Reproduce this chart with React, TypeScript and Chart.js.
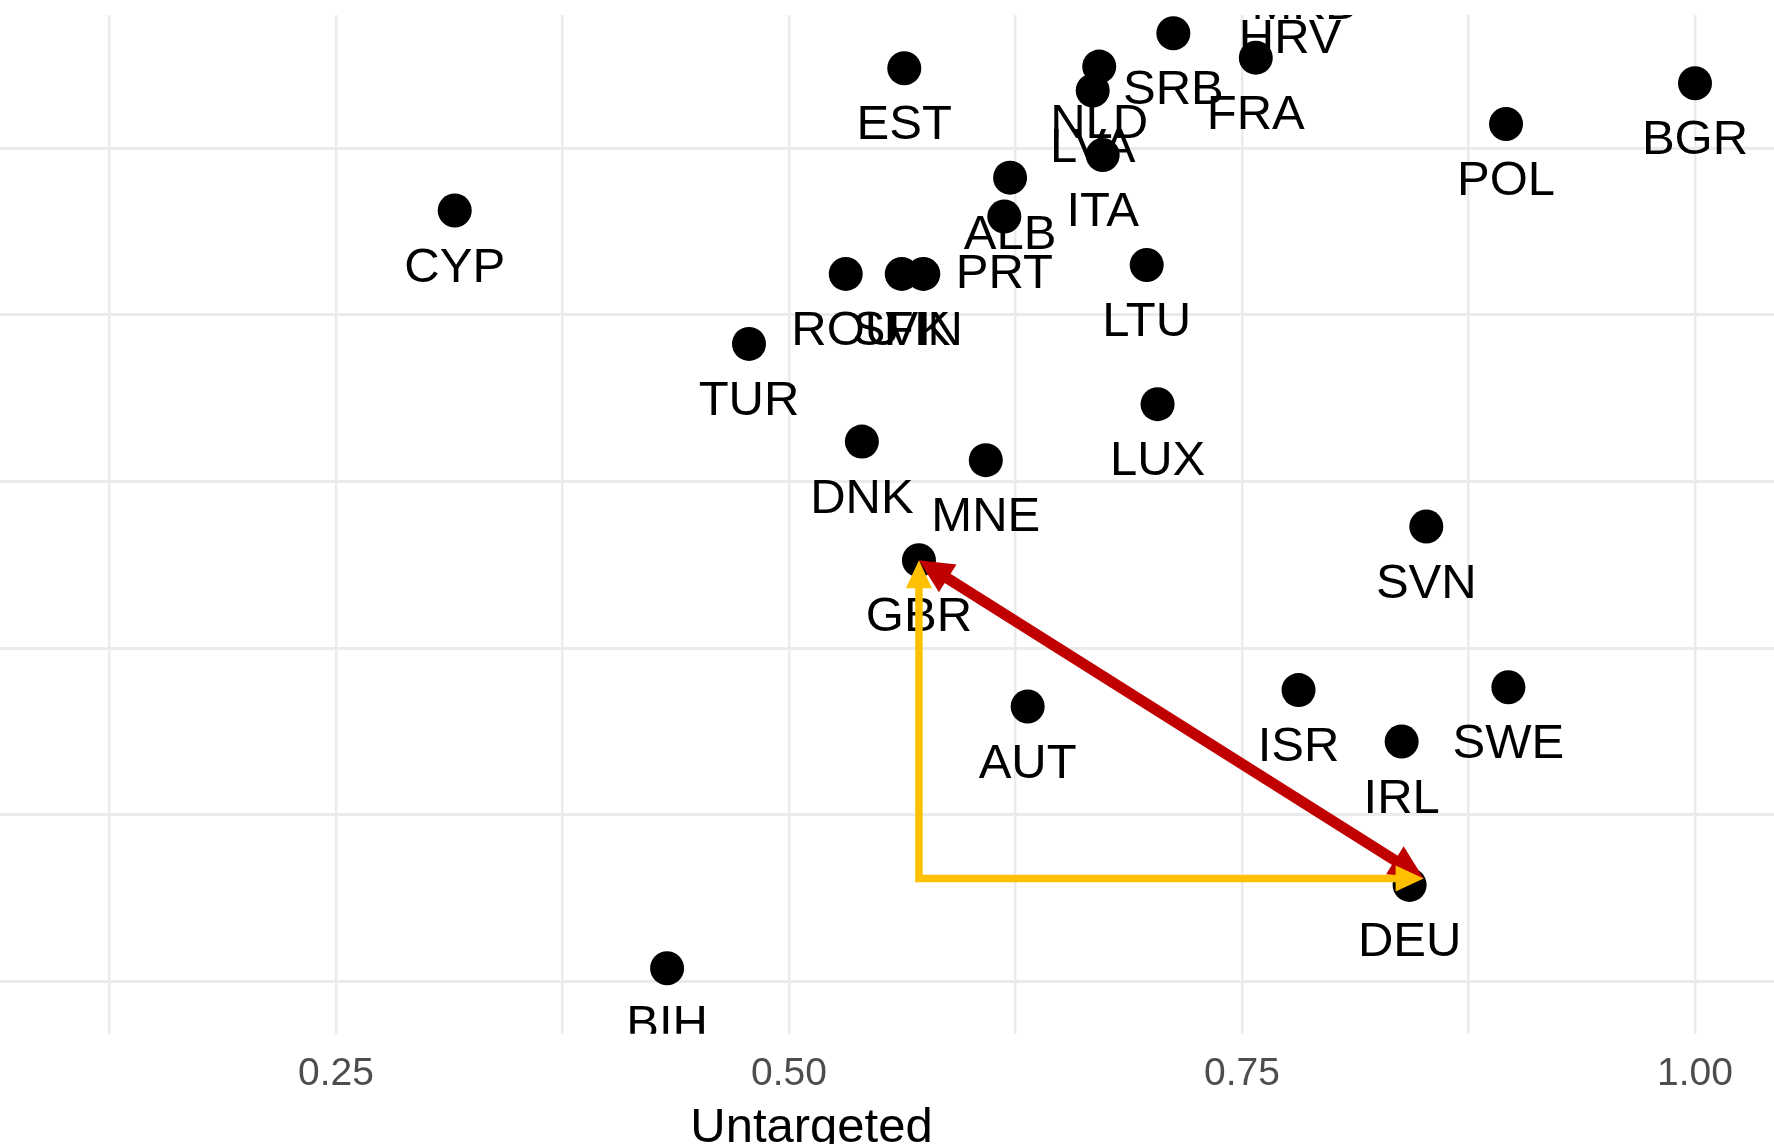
import React, { useEffect, useRef } from "react";
import { Chart, registerables } from "chart.js";

Chart.register(...registerables);

// ---- data ----
const countries = [
  "CYP", "EST", "SRB", "FRA", "NLD", "LVA", "ITA", "ALB", "PRT", "ROU",
  "SVK", "FIN", "LTU", "TUR", "BGR", "POL", "HRV", "MKD", "DNK", "LUX",
  "MNE", "GBR", "SVN", "ISR", "SWE", "AUT", "IRL", "DEU", "BIH",
];
const untargeted = [
  0.3155, 0.5636, 0.7121, 0.7576, 0.6712, 0.6676, 0.6731, 0.622, 0.6188, 0.5313,
  0.5622, 0.5741, 0.6974, 0.4779, 1.0, 0.8957, 0.7765, 0.7853, 0.5402, 0.7034,
  0.6086, 0.5717, 0.8517, 0.7812, 0.897, 0.6317, 0.8381, 0.8425, 0.4327,
];
const targeted = [
  0.8283, 0.9351, 0.9613, 0.943, 0.9363, 0.9183, 0.87, 0.853, 0.8238, 0.7808,
  0.7808, 0.7808, 0.7875, 0.7283, 0.9238, 0.8933, 1.0, 1.025, 0.655, 0.6831,
  0.6411, 0.566, 0.5913, 0.4686, 0.4708, 0.4563, 0.43, 0.3225, 0.26,
];
const xTickValues = [0.125, 0.25, 0.375, 0.5, 0.625, 0.75, 0.875, 1.0];
const xTickLabels = ["", "0.25", "", "0.50", "", "0.75", "", "1.00"];
const yTickValues = [0.25, 0.375, 0.5, 0.625, 0.75, 0.875];
const xAxisTitle = "Untargeted";
// visible window of the (cropped) panel
const xRange = [-0.0188, 1.0436];
const yRange = [0.2108, 0.975];
// annotation arrows between two countries
const arrowFrom = "GBR";
const arrowTo = "DEU";

const FONT = '"Liberation Sans", Arial, Helvetica, sans-serif';

function drawHead(ctx: CanvasRenderingContext2D, tx: number, ty: number, fx: number, fy: number, len: number, half: number) {
  const a = Math.atan2(ty - fy, tx - fx);
  const c = Math.cos(a), s = Math.sin(a);
  ctx.beginPath();
  ctx.moveTo(tx, ty);
  ctx.lineTo(tx - len * c + half * s, ty - len * s - half * c);
  ctx.lineTo(tx - len * c - half * s, ty - len * s + half * c);
  ctx.closePath();
  ctx.fill();
}

const labelPlugin = {
  id: "countryLabels",
  afterDatasetsDraw(chart: any) {
    const { ctx, chartArea, scales } = chart;
    ctx.save();
    ctx.beginPath();
    ctx.rect(chartArea.left, chartArea.top, chartArea.right - chartArea.left, chartArea.bottom - chartArea.top);
    ctx.clip();
    ctx.font = `49px ${FONT}`;
    ctx.fillStyle = "#000000";
    ctx.textAlign = "center";
    ctx.textBaseline = "alphabetic";
    countries.forEach((c, i) => {
      const px = scales.x.getPixelForValue(untargeted[i]);
      const py = scales.y.getPixelForValue(targeted[i]);
      ctx.fillText(c, px, py + 71);
    });
    ctx.restore();
  },
};

const arrowPlugin = {
  id: "arrows",
  afterDraw(chart: any) {
    const { ctx, scales } = chart;
    const i0 = countries.indexOf(arrowFrom);
    const i1 = countries.indexOf(arrowTo);
    const ax = scales.x.getPixelForValue(untargeted[i0]);
    const ay = scales.y.getPixelForValue(targeted[i0]);
    const bx = scales.x.getPixelForValue(untargeted[i1]) + 14;
    const by = scales.y.getPixelForValue(targeted[i1]) - 6.5;
    ctx.save();
    // red double-headed arrow
    const rLen = 34, rHalf = 16.5;
    const ang = Math.atan2(by - ay, bx - ax);
    ctx.strokeStyle = "#C00000";
    ctx.fillStyle = "#C00000";
    ctx.lineWidth = 11;
    ctx.lineCap = "butt";
    ctx.beginPath();
    ctx.moveTo(ax + (rLen - 2) * Math.cos(ang), ay + (rLen - 2) * Math.sin(ang));
    ctx.lineTo(bx - (rLen - 2) * Math.cos(ang), by - (rLen - 2) * Math.sin(ang));
    ctx.stroke();
    drawHead(ctx, ax, ay, bx, by, rLen, rHalf);
    drawHead(ctx, bx, by, ax, ay, rLen, rHalf);
    // yellow right-angle arrows
    const yLen = 28, yHalf = 13;
    ctx.strokeStyle = "#FFC000";
    ctx.fillStyle = "#FFC000";
    ctx.lineWidth = 7.5;
    ctx.lineJoin = "miter";
    ctx.beginPath();
    ctx.moveTo(ax, ay + yLen - 2);
    ctx.lineTo(ax, by);
    ctx.lineTo(bx - yLen + 2, by);
    ctx.stroke();
    drawHead(ctx, ax, ay, ax, by, yLen, yHalf);
    drawHead(ctx, bx, by, ax, by, yLen, yHalf);
    ctx.restore();
  },
};

export default function App() {
  const ref = useRef<HTMLCanvasElement>(null);

  useEffect(() => {
    if (!ref.current) return;
    Chart.defaults.font.family = FONT;
    const chart = new Chart(ref.current, {
      type: "scatter",
      data: {
        datasets: [
          {
            label: "countries",
            data: countries.map((_, i) => ({ x: untargeted[i], y: targeted[i] })),
            pointRadius: 17,
            pointHoverRadius: 17,
            pointBackgroundColor: "#000000",
            pointBorderWidth: 0,
            pointBorderColor: "#000000",
          },
        ],
      },
      options: {
        animation: false,
        responsive: false,
        devicePixelRatio: 1,
        events: [],
        layout: { autoPadding: false, padding: { top: 15, left: 0, right: 0, bottom: 0 } },
        plugins: {
          legend: { display: false },
          tooltip: { enabled: false },
          title: { display: false },
        },
        scales: {
          x: {
            type: "linear",
            min: xRange[0],
            max: xRange[1],
            afterBuildTicks: (axis: any) => {
              axis.ticks = xTickValues.map((v) => ({ value: v }));
            },
            ticks: {
              autoSkip: false,
              minRotation: 0,
              maxRotation: 0,
              padding: 17,
              color: "#4D4D4D",
              font: { size: 39, family: FONT },
              callback: (_v: any, i: number) => xTickLabels[i],
            },
            grid: { color: "#EBEBEB", lineWidth: 2.5, drawTicks: false },
            border: { display: false },
            title: {
              display: true,
              text: xAxisTitle,
              color: "#000000",
              font: { size: 49, family: FONT },
              padding: { top: -16, bottom: 42.6 },
            },
          },
          y: {
            type: "linear",
            min: yRange[0],
            max: yRange[1],
            afterBuildTicks: (axis: any) => {
              axis.ticks = yTickValues.map((v) => ({ value: v }));
            },
            ticks: { display: false },
            grid: { color: "#EBEBEB", lineWidth: 3, drawTicks: false },
            border: { display: false },
          },
        },
      },
      plugins: [labelPlugin, arrowPlugin],
    } as any);
    return () => chart.destroy();
  }, []);

  return (
    <div
      style={{
        position: "fixed",
        left: 0,
        top: 0,
        width: 1774,
        height: 1144,
        overflow: "hidden",
        background: "#ffffff",
      }}
    >
      <div style={{ position: "absolute", left: -151, top: 0, width: 1925, height: 1200 }}>
        <canvas ref={ref} width={1925} height={1200} style={{ width: 1925, height: 1200, display: "block" }} />
      </div>
    </div>
  );
}
